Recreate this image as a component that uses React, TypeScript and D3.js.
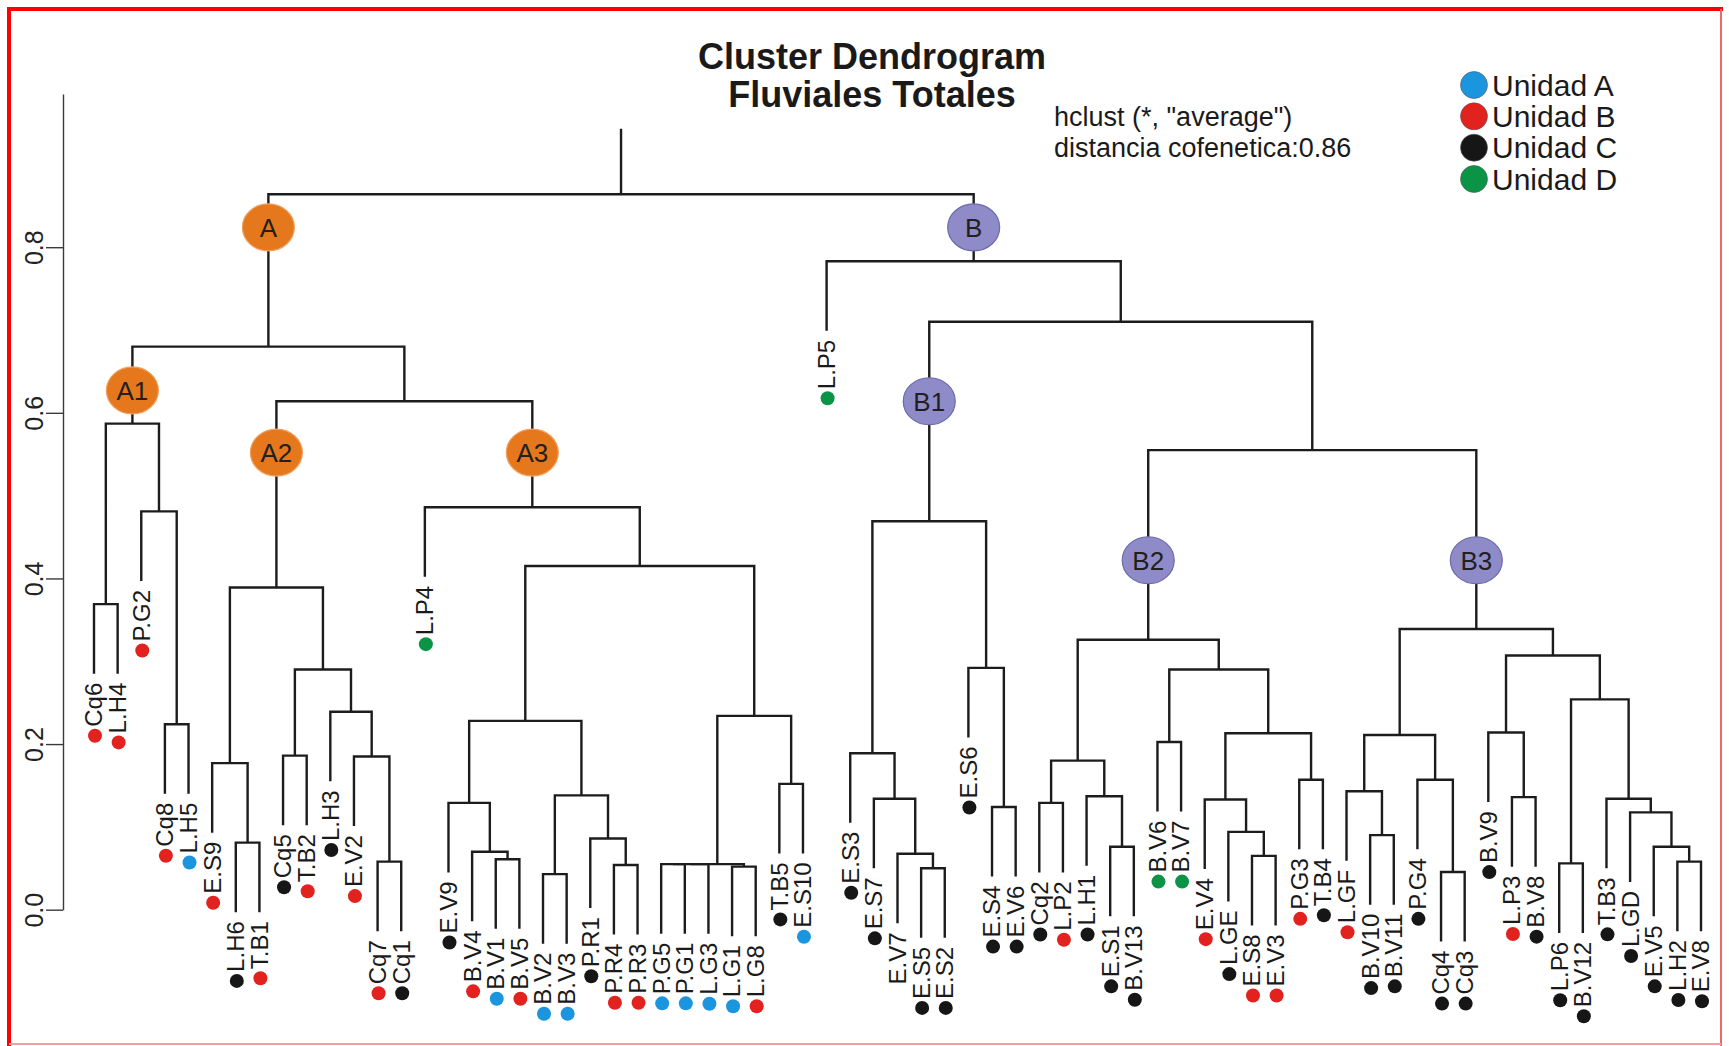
import React, { useEffect, useRef } from "react";
import * as d3 from "d3";

const W = 1729;
const H = 1046;

const titleLines = ["Cluster Dendrogram", "Fluviales Totales"];
const methodLines = ["hclust (*, \"average\")", "distancia cofenetica:0.86"];

// merge table like hclust: [id, left, right, height]; leaves are sample names
const merges: [string, string, string, number][] = [
  ["m1", "Cq6", "L.H4", 0.369],
  ["m2", "Cq8", "L.H5", 0.224],
  ["m3", "P.G2", "m2", 0.481],
  ["A1", "m1", "m3", 0.587],
  ["m5", "L.H6", "T.B1", 0.081],
  ["m6", "E.S9", "m5", 0.177],
  ["m7", "Cq5", "T.B2", 0.186],
  ["m8", "Cq7", "Cq1", 0.058],
  ["m9", "E.V2", "m8", 0.185],
  ["m10", "L.H3", "m9", 0.239],
  ["m11", "m7", "m10", 0.29],
  ["A2", "m6", "m11", 0.389],
  ["m13", "B.V1", "B.V5", 0.061],
  ["m14", "B.V4", "m13", 0.07],
  ["m15", "E.V9", "m14", 0.129],
  ["m16", "B.V2", "B.V3", 0.043],
  ["m17", "P.R4", "P.R3", 0.054],
  ["m18", "P.R1", "m17", 0.086],
  ["m19", "m16", "m18", 0.138],
  ["m20", "m15", "m19", 0.228],
  ["m21", "P.G5", "P.G1", 0.055],
  ["m22", "m21", "L.G3", 0.055],
  ["m23", "L.G1", "L.G8", 0.052],
  ["m24", "m22", "m23", 0.055],
  ["m25", "T.B5", "E.S10", 0.152],
  ["m26", "m24", "m25", 0.234],
  ["m27", "m20", "m26", 0.415],
  ["A3", "L.P4", "m27", 0.486],
  ["A23", "A2", "A3", 0.614],
  ["A", "A1", "A23", 0.68],
  ["b1", "E.S5", "E.S2", 0.05],
  ["b2", "E.V7", "b1", 0.0675],
  ["b3", "E.S7", "b2", 0.134],
  ["b4", "E.S3", "b3", 0.189],
  ["b5", "E.S4", "E.V6", 0.124],
  ["b6", "E.S6", "b5", 0.292],
  ["B1", "b4", "b6", 0.469],
  ["c1", "Cq2", "L.P2", 0.129],
  ["c2", "E.S1", "B.V13", 0.076],
  ["c3", "L.H1", "c2", 0.137],
  ["c4", "c1", "c3", 0.18],
  ["c5", "B.V6", "B.V7", 0.2025],
  ["c6", "E.S8", "E.V3", 0.065],
  ["c7", "L.GE", "c6", 0.094],
  ["c8", "E.V4", "c7", 0.133],
  ["c9", "P.G3", "T.B4", 0.157],
  ["c10", "c8", "c9", 0.213],
  ["c11", "c5", "c10", 0.29],
  ["B2", "c4", "c11", 0.326],
  ["d1", "B.V10", "B.V11", 0.09],
  ["d2", "L.GF", "d1", 0.143],
  ["d3", "Cq4", "Cq3", 0.0455],
  ["d4", "P.G4", "d3", 0.157],
  ["d5", "d2", "d4", 0.211],
  ["d6", "L.P3", "B.V8", 0.136],
  ["d7", "B.V9", "d6", 0.214],
  ["d8", "L.P6", "B.V12", 0.056],
  ["d9", "L.H2", "E.V8", 0.058],
  ["d10", "E.V5", "d9", 0.076],
  ["d11", "L.GD", "d10", 0.1175],
  ["d12", "T.B3", "d11", 0.134],
  ["d13", "d8", "d12", 0.254],
  ["d14", "d7", "d13", 0.307],
  ["B3", "d5", "d14", 0.339],
  ["B23", "B2", "B3", 0.555],
  ["Bin", "B1", "B23", 0.71],
  ["B", "L.P5", "Bin", 0.783],
  ["root", "A", "B", 0.864],
];
const rootTop = 0.943;
const HANG = 0.084;

const unitA = ["L.H5", "B.V1", "B.V2", "B.V3", "P.G5", "P.G1", "L.G3", "L.G1", "E.S10"];
const unitB = ["Cq6", "L.H4", "P.G2", "Cq8", "E.S9", "T.B1", "T.B2", "E.V2", "Cq7", "B.V4", "B.V5",
  "P.R4", "P.R3", "L.G8", "L.P2", "E.V4", "E.S8", "E.V3", "P.G3", "L.GF", "L.P3"];
const unitC = ["L.H6", "Cq5", "L.H3", "Cq1", "E.V9", "P.R1", "T.B5", "E.S3", "E.S7", "E.S5", "E.S2",
  "E.S6", "E.S4", "E.V6", "Cq2", "L.H1", "E.S1", "B.V13", "L.GE", "T.B4", "B.V10", "B.V11", "P.G4",
  "Cq4", "Cq3", "B.V9", "B.V8", "L.P6", "B.V12", "T.B3", "L.GD", "E.V5", "L.H2", "E.V8"];
const unitD = ["L.P4", "L.P5", "B.V6", "B.V7"];

const legendLabels = ["Unidad A", "Unidad B", "Unidad C", "Unidad D"];
const unitColors = ["#1b95de", "#e1221e", "#161616", "#0b9446"];

// cluster badges: node id, label, height where it sits on the stem
const badges: [string, string, number][] = [
  ["A", "A", 0.824], ["A1", "A1", 0.627], ["A2", "A2", 0.552], ["A3", "A3", 0.552],
  ["B", "B", 0.824], ["B1", "B1", 0.614], ["B2", "B2", 0.422], ["B3", "B3", 0.422],
];

const yTicks = [0, 0.2, 0.4, 0.6, 0.8];

const FONT = "'Liberation Sans', Arial, Helvetica, sans-serif";

export default function App() {
  const ref = useRef<SVGSVGElement>(null);

  useEffect(() => {
    const svg = d3.select(ref.current);
    svg.selectAll("*").remove();
    svg.append("rect").attr("width", W).attr("height", H).attr("fill", "#fff");

    const byId = new Map(merges.map(m => [m[0], m]));
    const rootId = merges[merges.length - 1][0];

    let order: string[] = [];
    const walk = (k: string) => {
      const m = byId.get(k);
      if (!m) { order.push(k); return; }
      walk(m[1]);
      walk(m[2]);
    };
    walk(rootId);

    const x = d3.scalePoint<string>().domain(order).range([94, 1701]);
    const y = d3.scaleLinear().domain([0, 0.985]).range([909.7, 94]);

    const nodeX = new Map<string, number>();
    const parentH = new Map<string, number>();
    const place = (k: string): number => {
      const m = byId.get(k);
      if (!m) return x(k) as number;
      const xa = place(m[1]);
      const xb = place(m[2]);
      const px = (xa + xb) / 2;
      nodeX.set(k, px);
      if (!byId.has(m[1])) parentH.set(m[1], m[3]);
      if (!byId.has(m[2])) parentH.set(m[2], m[3]);
      return px;
    };
    place(rootId);

    const xOf = (k: string) => (byId.has(k) ? nodeX.get(k)! : (x(k) as number));
    const bottomOf = (k: string, h: number) => (byId.has(k) ? y(byId.get(k)![3]) : y(h - HANG));

    // tree links
    const tree = svg.append("g")
      .attr("fill", "none")
      .attr("stroke", "#1c1c1c")
      .attr("stroke-width", 2.4);

    merges.forEach(([id, l, r, h]) => {
      const p = d3.path();
      p.moveTo(xOf(l), bottomOf(l, h));
      p.lineTo(xOf(l), y(h));
      p.lineTo(xOf(r), y(h));
      p.lineTo(xOf(r), bottomOf(r, h));
      tree.append("path").attr("d", p.toString());
    });
    tree.append("line")
      .attr("x1", xOf(rootId)).attr("x2", xOf(rootId))
      .attr("y1", y(byId.get(rootId)![3])).attr("y2", y(rootTop));

    // y axis
    const axis = d3.axisLeft(y).tickValues(yTicks).tickSize(17).tickSizeOuter(0).tickFormat(d3.format(".1f"));
    const ag = svg.append("g").attr("transform", "translate(63,0)").call(axis);
    ag.select(".domain").attr("stroke", "#3a3a3a").attr("stroke-width", 1.4);
    ag.selectAll(".tick line").attr("stroke", "#3a3a3a").attr("stroke-width", 1.4);
    ag.selectAll(".tick text")
      .attr("x", null)
      .attr("dy", "0.35em")
      .attr("transform", "translate(-29,0) rotate(-90)")
      .attr("text-anchor", "middle")
      .attr("font-size", 25)
      .attr("font-family", FONT)
      .attr("fill", "#222");

    // leaf labels + unit dots
    const units = [unitA, unitB, unitC, unitD];
    const unitOf = (name: string) => units.findIndex(u => u.includes(name));
    const leaves = svg.append("g");
    order.forEach(name => {
      const lx = x(name) as number;
      const ly = y(parentH.get(name)! - HANG) + 9;
      const t = leaves.append("text")
        .attr("transform", `translate(${lx},${ly}) rotate(-90)`)
        .attr("text-anchor", "end")
        .attr("dy", "0.35em")
        .attr("font-size", 24)
        .attr("font-family", FONT)
        .attr("fill", "#1a1a1a")
        .text(name);
      const len = (t.node() as SVGTextElement).getComputedTextLength();
      const u = unitOf(name);
      if (u >= 0) {
        leaves.append("circle")
          .attr("cx", lx + 1)
          .attr("cy", ly + len + 9)
          .attr("r", 7)
          .attr("fill", unitColors[u]);
      }
    });

    // cluster badges
    const bg = svg.append("g");
    badges.forEach(([id, label, h]) => {
      const isA = label.startsWith("A");
      const cx = xOf(id);
      const cy = y(h);
      bg.append("ellipse")
        .attr("cx", cx).attr("cy", cy)
        .attr("rx", 26).attr("ry", 23.5)
        .attr("fill", isA ? "#e5781c" : "#8e8bc8")
        .attr("stroke", isA ? "#f0a060" : "#6d69aa")
        .attr("stroke-width", 1.2);
      bg.append("text")
        .attr("x", cx).attr("y", cy)
        .attr("dy", "0.36em")
        .attr("text-anchor", "middle")
        .attr("font-size", 26)
        .attr("font-family", FONT)
        .attr("fill", "#231f20")
        .text(label);
    });

    // titles
    titleLines.forEach((s, i) => {
      svg.append("text")
        .attr("x", 872).attr("y", 69 + i * 38)
        .attr("text-anchor", "middle")
        .attr("font-size", 36)
        .attr("font-weight", "bold")
        .attr("font-family", FONT)
        .attr("fill", "#1a1a1a")
        .text(s);
    });
    methodLines.forEach((s, i) => {
      svg.append("text")
        .attr("x", 1054).attr("y", 126 + i * 31)
        .attr("font-size", 27)
        .attr("font-family", FONT)
        .attr("fill", "#1a1a1a")
        .text(s);
    });

    // legend
    const ly = d3.scalePoint<string>().domain(legendLabels).range([85, 179]);
    const lg = svg.append("g");
    legendLabels.forEach((s, i) => {
      lg.append("circle")
        .attr("cx", 1474).attr("cy", ly(s)!)
        .attr("r", 13.5)
        .attr("fill", unitColors[i])
        .attr("stroke", "#555").attr("stroke-width", 0.6);
      lg.append("text")
        .attr("x", 1492).attr("y", ly(s)!)
        .attr("dy", "0.36em")
        .attr("font-size", 30)
        .attr("font-family", FONT)
        .attr("fill", "#1a1a1a")
        .text(s);
    });

    // frame
    const fr = svg.append("g");
    fr.append("line").attr("x1", 7).attr("x2", 1723).attr("y1", 9).attr("y2", 9)
      .attr("stroke", "#ff0000").attr("stroke-width", 4);
    fr.append("line").attr("x1", 9).attr("x2", 9).attr("y1", 7).attr("y2", 1046)
      .attr("stroke", "#ff0000").attr("stroke-width", 4);
    fr.append("line").attr("x1", 1721).attr("x2", 1721).attr("y1", 9).attr("y2", 1046)
      .attr("stroke", "#e86a6a").attr("stroke-width", 2);
    fr.append("line").attr("x1", 9).attr("x2", 1721).attr("y1", 1044).attr("y2", 1044)
      .attr("stroke", "#f0a0a0").attr("stroke-width", 2);
  }, []);

  return (
    <svg
      ref={ref}
      width={W}
      height={H}
      style={{ position: "absolute", left: 0, top: 0, display: "block" }}
    />
  );
}
